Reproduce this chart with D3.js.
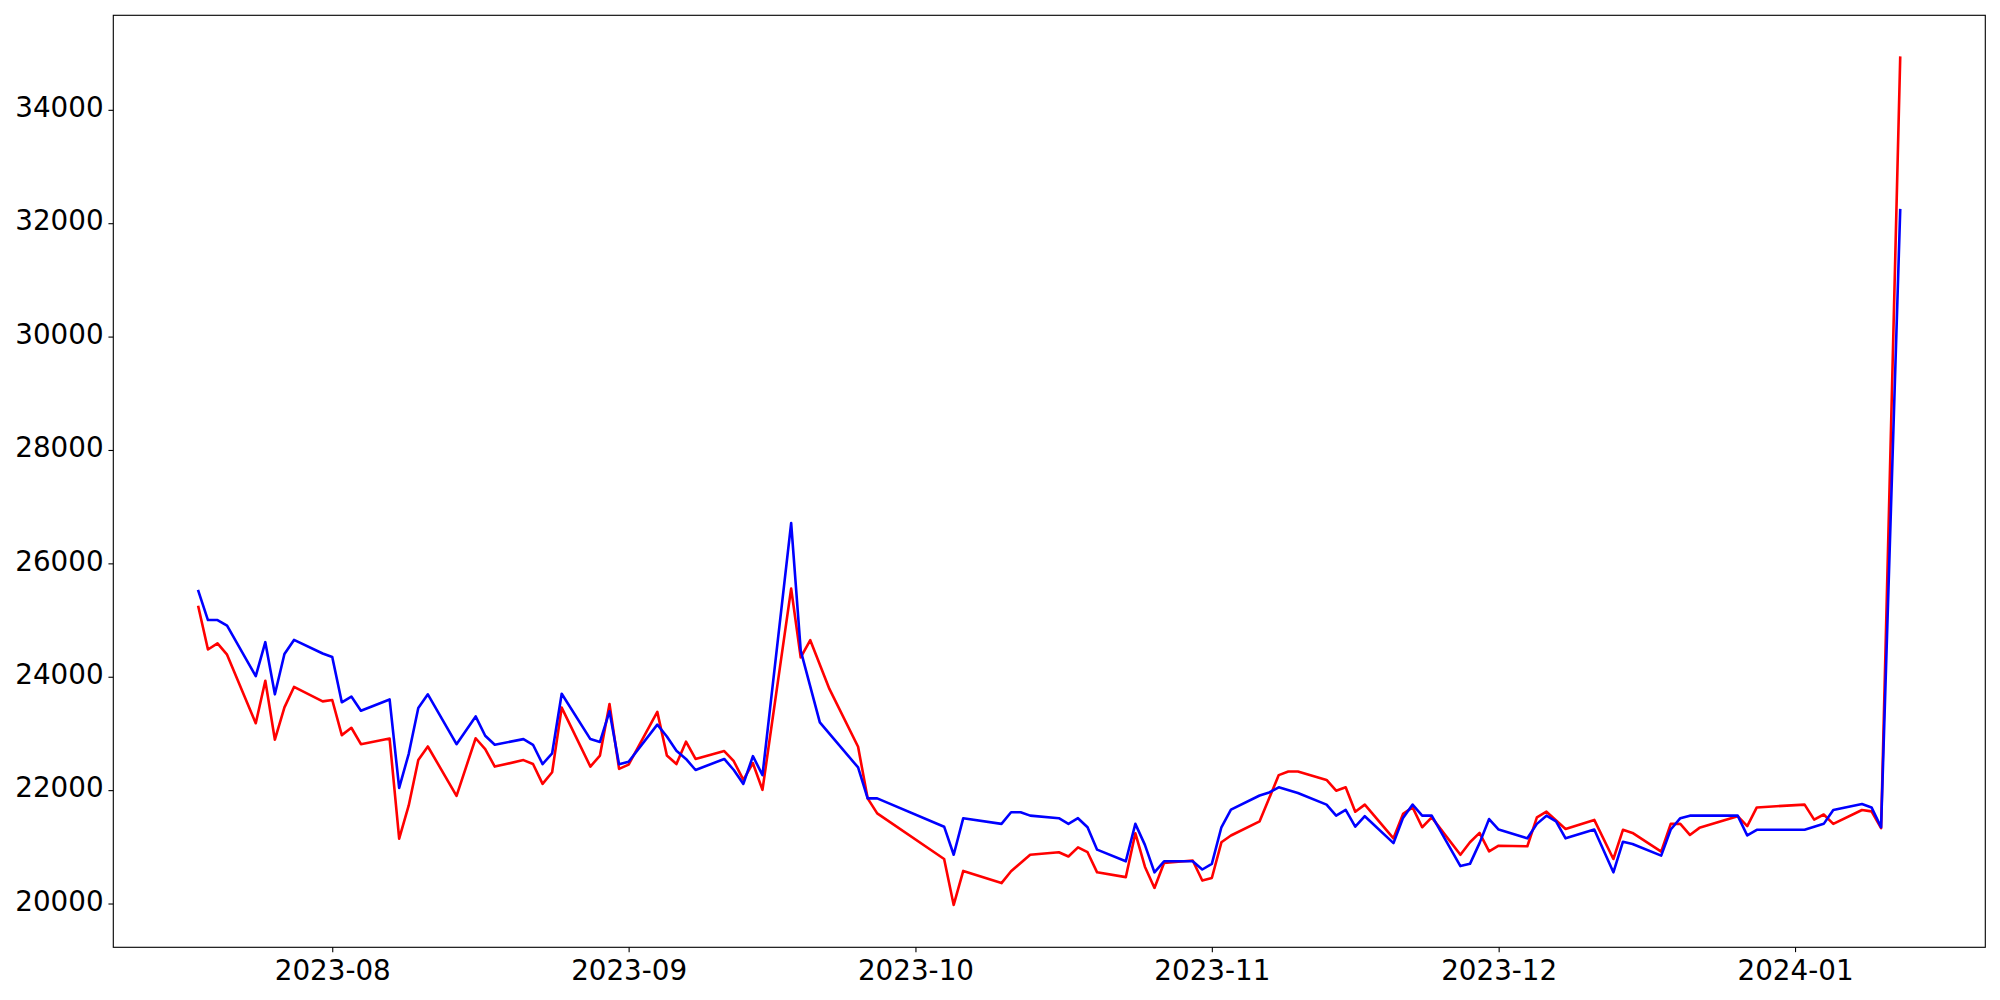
<!DOCTYPE html>
<html>
<head>
<meta charset="utf-8">
<script src="https://cdn.jsdelivr.net/npm/d3@7"></script>
<style>
  html, body { margin: 0; padding: 0; background: #ffffff; }
  svg { display: block; }
</style>
</head>
<body>
<svg id="chart" width="2000" height="1000"></svg>
<script>
// ---- data ----
const dates = [
  "2023-07-18","2023-07-19","2023-07-20","2023-07-21","2023-07-24","2023-07-25","2023-07-26","2023-07-27","2023-07-28","2023-07-31",
  "2023-08-01","2023-08-02","2023-08-03","2023-08-04","2023-08-07","2023-08-08","2023-08-09","2023-08-10","2023-08-11","2023-08-14",
  "2023-08-16","2023-08-17","2023-08-18","2023-08-21","2023-08-22","2023-08-23","2023-08-24","2023-08-25","2023-08-28","2023-08-29",
  "2023-08-30","2023-08-31","2023-09-01","2023-09-04","2023-09-05","2023-09-06","2023-09-07","2023-09-08","2023-09-11","2023-09-12",
  "2023-09-13","2023-09-14","2023-09-15","2023-09-18","2023-09-19","2023-09-20","2023-09-21","2023-09-22","2023-09-25","2023-09-26",
  "2023-09-27","2023-10-04","2023-10-05","2023-10-06","2023-10-10","2023-10-11","2023-10-12","2023-10-13","2023-10-16","2023-10-17",
  "2023-10-18","2023-10-19","2023-10-20","2023-10-23","2023-10-24","2023-10-25","2023-10-26","2023-10-27","2023-10-30","2023-10-31",
  "2023-11-01","2023-11-02","2023-11-03","2023-11-06","2023-11-07","2023-11-08","2023-11-09","2023-11-10","2023-11-13","2023-11-14",
  "2023-11-15","2023-11-16","2023-11-17","2023-11-20","2023-11-21","2023-11-22","2023-11-23","2023-11-24","2023-11-27","2023-11-28",
  "2023-11-29","2023-11-30","2023-12-01","2023-12-04","2023-12-05","2023-12-06","2023-12-07","2023-12-08","2023-12-11","2023-12-13",
  "2023-12-14","2023-12-15","2023-12-18","2023-12-19","2023-12-20","2023-12-21","2023-12-22","2023-12-26","2023-12-27","2023-12-28",
  "2024-01-02","2024-01-03","2024-01-04","2024-01-05","2024-01-08","2024-01-09","2024-01-10","2024-01-12"
];

const blueValues = [
  25510,25000,25000,24900,24010,24610,23690,24400,24650,24410,
  24350,23550,23650,23400,23600,22040,22640,23450,23690,22810,
  23300,22960,22800,22900,22800,22460,22650,23700,22900,22850,
  23390,22455,22500,23155,22945,22695,22550,22355,22550,22355,
  22110,22600,22265,26710,24460,null,23195,null,22400,21855,
  21855,21355,20860,21505,21405,21610,21610,21550,21505,21405,
  21505,21345,20950,20745,21405,21035,20550,20745,20745,20600,
  20700,21345,21655,21905,21960,22050,null,21950,21745,21550,
  21650,21355,21540,21065,21510,21745,21550,21550,20660,20700,
  21065,21490,21305,21150,21405,21550,21450,21150,21305,20550,
  21090,21050,20845,21305,21505,21550,null,21550,21200,21300,
  21300,null,21405,21650,21755,21695,21345,32230
];

const redValues = [
  25230,24480,24590,24390,23180,23930,22890,23460,23820,23565,
  23590,22970,23100,22810,22910,21145,21730,22530,22770,21900,
  22915,22725,22415,22530,22460,22110,22315,23455,22415,22610,
  23520,22375,22450,23380,22610,22460,22855,22550,22690,22510,
  22180,22475,22005,25555,24340,24645,null,23785,22765,21855,
  21590,20785,19975,20575,20360,20570,null,20860,20905,20830,
  20990,20905,20550,20465,21240,20650,20275,20715,20760,20405,
  20450,21080,21200,21450,null,22265,22330,22330,22180,21990,
  22050,21620,21745,21150,21580,21695,21345,21520,20860,21080,
  21245,20920,21020,21010,21520,21620,null,21315,21475,20785,
  21300,21245,20915,21405,21405,21210,21335,21540,21365,21695,
  21745,21480,21570,21405,21650,21625,21330,34920
];

const yTickValues = [20000, 22000, 24000, 26000, 28000, 30000, 32000, 34000];
const xTickMonths = ["2023-08-01","2023-09-01","2023-10-01","2023-11-01","2023-12-01","2024-01-01"];

// ---- layout ----
const W = 2000, H = 1000;
const margin = { left: 113.3, top: 15.3, right: 14.7, bottom: 52.7 };
const plotW = W - margin.left - margin.right;
const plotH = H - margin.top - margin.bottom;
const FONT = "'DejaVu Sans', sans-serif";
const FS = 27.78;
const TICK = 4.86, PAD = 4.86, LW = 1.11;
const LINE_W = 2.6;

const parse = d3.utcParse("%Y-%m-%d");
const dateObjs = dates.map(parse);

const redSeries = dateObjs.map((d, i) => ({ date: d, value: redValues[i] })).filter(p => p.value != null);
const blueSeries = dateObjs.map((d, i) => ({ date: d, value: blueValues[i] })).filter(p => p.value != null);

// matplotlib-like 5% margins
const t0 = d3.min(dateObjs).getTime(), t1 = d3.max(dateObjs).getTime();
const tPad = (t1 - t0) * 0.05;
const allVals = redSeries.concat(blueSeries).map(p => p.value);
const vMin = d3.min(allVals), vMax = d3.max(allVals);
const vPad = (vMax - vMin) * 0.05;

const x = d3.scaleUtc().domain([new Date(t0 - tPad), new Date(t1 + tPad)]).range([0, plotW]);
const y = d3.scaleLinear().domain([vMin - vPad, vMax + vPad]).range([plotH, 0]);

const svg = d3.select("#chart");
svg.append("rect").attr("width", W).attr("height", H).attr("fill", "#ffffff");

const g = svg.append("g").attr("transform", `translate(${margin.left},${margin.top})`);

// lines
const line = d3.line().x(d => x(d.date)).y(d => y(d.value));
g.append("path").datum(redSeries)
  .attr("fill", "none").attr("stroke", "#ff0000").attr("stroke-width", LINE_W)
  .attr("stroke-linejoin", "round").attr("stroke-linecap", "square")
  .attr("d", line);
g.append("path").datum(blueSeries)
  .attr("fill", "none").attr("stroke", "#0000ff").attr("stroke-width", LINE_W)
  .attr("stroke-linejoin", "round").attr("stroke-linecap", "square")
  .attr("d", line);

// axes
const xAxis = d3.axisBottom(x)
  .tickValues(xTickMonths.map(parse))
  .tickFormat(d3.utcFormat("%Y-%m"))
  .tickSize(TICK).tickPadding(PAD);
const yAxis = d3.axisLeft(y)
  .tickValues(yTickValues)
  .tickFormat(d3.format("d"))
  .tickSize(TICK).tickPadding(PAD);

const gx = g.append("g").attr("transform", `translate(0,${plotH})`).call(xAxis);
const gy = g.append("g").call(yAxis);
[gx, gy].forEach(ax => {
  ax.select(".domain").remove();
  ax.selectAll(".tick line").attr("stroke", "#000").attr("stroke-width", LW);
  ax.selectAll(".tick text").attr("fill", "#000")
    .style("font-family", FONT).style("font-size", FS + "px");
});
gx.selectAll(".tick text").attr("dy", "0.82em");
gy.selectAll(".tick text").attr("dy", "0.24em");

// frame (spines)
g.append("rect")
  .attr("x", 0).attr("y", 0).attr("width", plotW).attr("height", plotH)
  .attr("fill", "none").attr("stroke", "#000").attr("stroke-width", LW);
</script>
</body>
</html>
